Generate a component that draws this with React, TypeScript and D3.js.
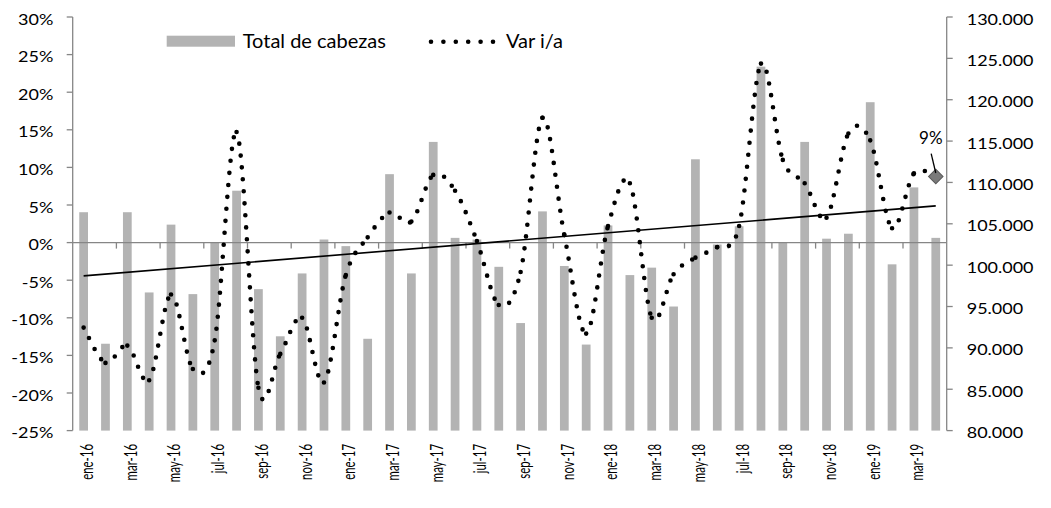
import React, { Component } from "react";
import * as d3 from "d3";

// months shown on the category axis (one bar / one point each)
const months = [
  "ene-16", "feb-16", "mar-16", "abr-16", "may-16", "jun-16", "jul-16", "ago-16", "sep-16", "oct-16", "nov-16", "dic-16",
  "ene-17", "feb-17", "mar-17", "abr-17", "may-17", "jun-17", "jul-17", "ago-17", "sep-17", "oct-17", "nov-17", "dic-17",
  "ene-18", "feb-18", "mar-18", "abr-18", "may-18", "jun-18", "jul-18", "ago-18", "sep-18", "oct-18", "nov-18", "dic-18",
  "ene-19", "feb-19", "mar-19", "abr-19",
];

// Total de cabezas (right axis)
const totalCabezas = [
  106400, 90500, 106400, 96700, 104900, 96500, 102800, 109000, 97100, 91400, 99000, 103100,
  102300, 91100, 111000, 99000, 114900, 103300, 103100, 99800, 93000, 106500, 99900, 90400,
  104800, 98800, 99700, 95000, 112800, 102500, 104700, 124000, 102700, 114900, 103200, 103800,
  119700, 100100, 109400, 103300,
];

// Var i/a (left axis, %)
const varIA = [
  -11.3, -16.0, -13.7, -18.3, -6.9, -16.8, -13.0, 14.7, -19.3, -14.8, -10.0, -18.6,
  -4.3, 0.7, 4.0, 2.8, 9.0, 6.9, 0.2, -8.3, -3.9, 16.6, 1.0, -12.1,
  2.2, 7.9, -10.0, -4.2, -2.0, -0.6, 2.2, 23.8, 11.0, 7.9, 3.3, 14.5,
  13.6, 1.9, 9.2, 8.8,
];

const leftTicks = [-25, -20, -15, -10, -5, 0, 5, 10, 15, 20, 25, 30];
const rightTicks = [80000, 85000, 90000, 95000, 100000, 105000, 110000, 115000, 120000, 125000, 130000];
const lastLabel = "9%";

const FONT = "Lato, 'Open Sans', sans-serif";
const BAR = "#b3b3b3";
const AXIS = "#868686";

class App extends Component {
  svgRef = React.createRef<SVGSVGElement>();

  componentDidMount() {
    this.draw();
  }
  componentDidUpdate() {
    this.draw();
  }

  draw() {
    const svg = d3.select(this.svgRef.current);
    svg.selectAll("*").remove();

    const left = 72.7, right = 946.7, top = 17, bottom = 430.6;

    const x = d3.scaleBand().domain(months).range([left, right]).paddingInner(0.6).paddingOuter(0.3);
    const step = x.step();
    const cx = (i: number) => (x(months[i]) as number) + x.bandwidth() / 2;
    const yL = d3.scaleLinear().domain([-25, 30]).range([bottom, top]);
    const yR = d3.scaleLinear().domain([80000, 130000]).range([bottom, top]);

    const fmtR = d3.formatLocale({ decimal: ",", thousands: ".", grouping: [3], currency: ["$", ""] }).format(",.0f");

    // bars
    svg.append("g").selectAll("rect")
      .data(totalCabezas)
      .join("rect")
      .attr("x", (d, i) => x(months[i]) as number)
      .attr("width", x.bandwidth())
      .attr("y", d => yR(d))
      .attr("height", d => yR(80000) - yR(d))
      .attr("fill", BAR);

    // category axis at 0%
    const y0 = yL(0);
    const ax = svg.append("g").attr("stroke", AXIS).attr("stroke-width", 1.3);
    ax.append("line").attr("x1", left).attr("x2", right).attr("y1", y0).attr("y2", y0);
    ax.selectAll(".xt").data(d3.range(2, months.length, 2)).join("line")
      .attr("x1", k => left + k * step).attr("x2", k => left + k * step)
      .attr("y1", y0).attr("y2", y0 + 6);

    // left axis
    ax.append("line").attr("x1", left).attr("x2", left).attr("y1", top).attr("y2", bottom);
    ax.selectAll(".lt").data(leftTicks).join("line")
      .attr("x1", left - 6).attr("x2", left).attr("y1", d => yL(d)).attr("y2", d => yL(d));
    // right axis
    ax.append("line").attr("x1", right).attr("x2", right).attr("y1", top).attr("y2", bottom);
    ax.selectAll(".rt").data(rightTicks).join("line")
      .attr("x1", right).attr("x2", right + 6).attr("y1", d => yR(d)).attr("y2", d => yR(d));

    const labels = svg.append("g").attr("font-family", FONT).attr("font-size", 15).attr("fill", "#000");
    labels.selectAll(".ll").data(leftTicks).join("text")
      .attr("text-anchor", "end")
      .attr("transform", d => `translate(53.3,${yL(d) + 7.5}) scale(1.2,1)`)
      .text(d => `${d}%`);
    labels.selectAll(".rl").data(rightTicks).join("text")
      .attr("text-anchor", "start")
      .attr("transform", d => `translate(966.7,${yR(d) + 7.5}) scale(1.2,1)`)
      .text(d => fmtR(d));
    labels.selectAll(".xl").data(months.filter((m, i) => i % 2 === 0)).join("text")
      .attr("text-anchor", "end")
      .attr("transform", (d, j) => `translate(${cx(j * 2) + 9.4},444) rotate(-90) scale(0.76,1.18)`)
      .text(d => d);

    // linear trend of total heads
    const n = totalCabezas.length;
    const mx = d3.mean(d3.range(n)) as number;
    const my = d3.mean(totalCabezas) as number;
    const slope = d3.sum(totalCabezas, (v, i) => (i - mx) * (v - my)) / d3.sum(d3.range(n), i => (i - mx) * (i - mx));
    const trend = (i: number) => my + slope * (i - mx);
    svg.append("line")
      .attr("x1", cx(0)).attr("y1", yR(trend(0)))
      .attr("x2", cx(n - 1)).attr("y2", yR(trend(n - 1)))
      .attr("stroke", "#000").attr("stroke-width", 1.6);

    // smoothed dotted line, one segment per month (dots restart at each point)
    const pts = varIA.map((v, i) => [cx(i), yL(v)]);
    const segs = d3.range(pts.length - 1).map(i => {
      const p0 = pts[Math.max(i - 1, 0)], p1 = pts[i], p2 = pts[i + 1], p3 = pts[Math.min(i + 2, pts.length - 1)];
      const p = d3.path();
      p.moveTo(p1[0], p1[1]);
      p.bezierCurveTo(
        p1[0] + (p2[0] - p0[0]) / 6, p1[1] + (p2[1] - p0[1]) / 6,
        p2[0] - (p3[0] - p1[0]) / 6, p2[1] - (p3[1] - p1[1]) / 6,
        p2[0], p2[1]);
      return p.toString();
    });
    svg.append("g").selectAll("path").data(segs).join("path")
      .attr("d", d => d)
      .attr("fill", "none").attr("stroke", "#000").attr("stroke-width", 4.6)
      .attr("stroke-linecap", "round").attr("stroke-dasharray", "0 12");

    // last point marker + label
    const last = pts[pts.length - 1];
    svg.append("path")
      .attr("d", d3.symbol(d3.symbolSquare, 105)())
      .attr("transform", `translate(${last[0]},${last[1]}) rotate(45)`)
      .attr("fill", "#7a7a7a").attr("stroke", "#5a5a5a").attr("stroke-width", 1);
    svg.append("line")
      .attr("x1", last[0] - 4.6).attr("y1", last[1] - 22.7)
      .attr("x2", last[0]).attr("y2", last[1] - 3.4)
      .attr("stroke", "#000").attr("stroke-width", 1.3);
    svg.append("text")
      .attr("x", last[0] - 5).attr("y", last[1] - 32.7)
      .attr("text-anchor", "middle").attr("font-family", FONT).attr("font-size", 17)
      .text(lastLabel);

    // legend
    const lg = svg.append("g").attr("font-family", FONT).attr("font-size", 20);
    lg.append("rect").attr("x", 166.7).attr("y", 35.7).attr("width", 68.3).attr("height", 11).attr("fill", BAR);
    lg.append("text").attr("x", 242.7).attr("y", 47.6).text("Total de cabezas");
    lg.append("path").attr("d", "M431,41.7H494")
      .attr("stroke", "#000").attr("stroke-width", 4.6)
      .attr("stroke-linecap", "round").attr("stroke-dasharray", "0 12.4");
    lg.append("text").attr("x", 506).attr("y", 47.6).text("Var i/a");
  }

  render() {
    return (
      <svg ref={this.svgRef} width={1051} height={508}
        style={{ position: "absolute", left: 0, top: 0, background: "#fff" }} />
    );
  }
}

export default App;
